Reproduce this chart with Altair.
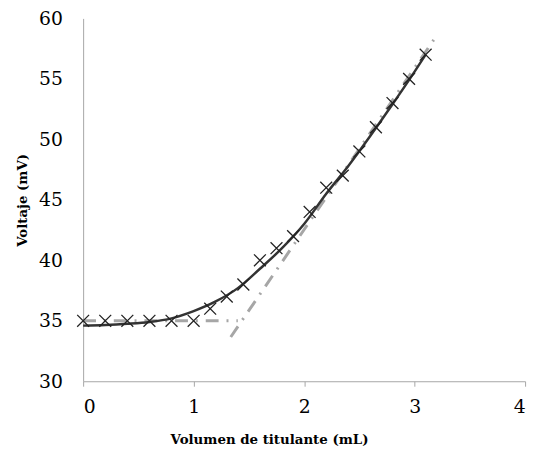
import altair as alt
import pandas as pd

# measured points
vol = [0, 0.2, 0.4, 0.6, 0.8, 1.0, 1.15, 1.3, 1.45, 1.6, 1.75, 1.9, 2.05, 2.2, 2.35, 2.5, 2.65, 2.8, 2.95, 3.1]
volt = [35, 35, 35, 35, 35, 35, 36, 37, 38, 40, 41, 42, 44, 46, 47, 49, 51, 53, 55, 57]

# fitted curve
fit_x = [0, 0.2, 0.4, 0.6, 0.8, 1.0, 1.2, 1.4, 1.6, 1.8, 2.0, 2.2, 2.4, 2.6, 2.8, 3.0, 3.1]
fit_y = [34.6, 34.65, 34.75, 34.9, 35.2, 35.8, 36.6, 37.7, 39.3, 41.0, 43.0, 45.5, 47.8, 50.3, 52.9, 55.6, 57.0]

# tangent lines
base_x = [0, 1.4]
base_y = [35, 35]
rise_x = [1.336, 3.19]
rise_y = [33.66, 58.45]

FONT = "DejaVu Serif"

xs = alt.Scale(domain=[0, 4], nice=False)
ys = alt.Scale(domain=[30, 60], nice=False)

xaxis = alt.Axis(title="Volumen de titulante (mL)", values=[0, 1, 2, 3, 4], format="d",
                 grid=False, domainColor="#a6a6a6", tickColor="#a6a6a6", tickSize=5,
                 labelFont=FONT, labelFontSize=19, labelColor="black",
                 labelPadding=12, titleFont=FONT, titleFontSize=13.5,
                 titleFontWeight="bold", titleColor="black", titlePadding=16,
                 titleX=188, titleAlign="center")
yaxis = alt.Axis(title="Voltaje  (mV)", values=[30, 35, 40, 45, 50, 55, 60], format="d",
                 grid=False, domainColor="#a6a6a6", ticks=False,
                 labelFont=FONT, labelFontSize=19, labelColor="black",
                 labelPadding=21, titleFont=FONT, titleFontSize=13.5,
                 titleFontWeight="bold", titleColor="black", titlePadding=9)

d_base = pd.DataFrame({"x": base_x, "y": base_y})
d_rise = pd.DataFrame({"x": rise_x, "y": rise_y})
d_fit = pd.DataFrame({"x": fit_x, "y": fit_y})
d_pts = pd.DataFrame({"x": vol, "y": volt})

dash = [13, 8, 2, 8]
base = alt.Chart(d_base).mark_line(color="#a6a6a6", strokeWidth=3, strokeDash=dash).encode(
    x=alt.X("x:Q", scale=xs, axis=xaxis), y=alt.Y("y:Q", scale=ys, axis=yaxis))
rise = alt.Chart(d_rise).mark_line(color="#a6a6a6", strokeWidth=3, strokeDash=dash).encode(
    x=alt.X("x:Q", scale=xs), y=alt.Y("y:Q", scale=ys))
fit = alt.Chart(d_fit).mark_line(color="#333333", strokeWidth=2.5, interpolate="monotone").encode(
    x=alt.X("x:Q", scale=xs), y=alt.Y("y:Q", scale=ys))
pts = alt.Chart(d_pts).mark_point(shape="M-1,-1L1,1M-1,1L1,-1", size=144, filled=False,
                                  stroke="#222222", strokeWidth=1.3, opacity=1).encode(
    x=alt.X("x:Q", scale=xs), y=alt.Y("y:Q", scale=ys))

chart = alt.layer(base, rise, fit, pts).properties(
    width=447, height=367,
    autosize=alt.AutoSizeParams(type="none"),
    padding={"left": 76, "top": 8, "right": 8, "bottom": 66},
).configure_view(stroke=None)

chart.save("out.html", embed_options={"renderer": "svg", "actions": False})
